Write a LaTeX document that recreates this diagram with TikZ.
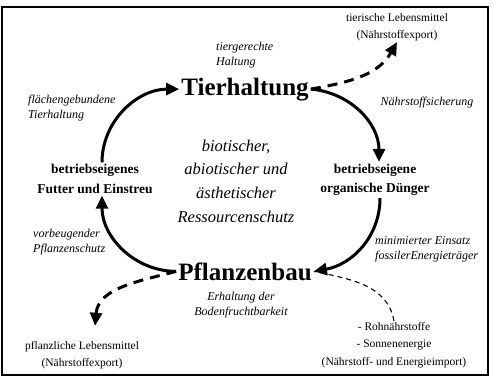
\documentclass[tikz,border=0pt]{standalone}
\usepackage{fontspec}
\setmainfont{Liberation Serif}
\usetikzlibrary{arrows.meta}
\tikzstyle{mymain}=[font=\fontsize{25}{30}\selectfont\bfseries,inner sep=2pt]
\tikzstyle{mysub}=[font=\fontsize{13.5}{19.5}\selectfont\bfseries,align=center,inner sep=2pt]
\tikzstyle{mycore}=[font=\fontsize{16.5}{23.7}\selectfont\itshape,align=center,inner sep=2pt]
\tikzstyle{myital}=[font=\fontsize{12}{15}\selectfont\itshape,align=left,inner sep=1pt]
\tikzstyle{mysmall}=[font=\fontsize{11.5}{17.5}\selectfont,align=center,inner sep=1pt]
\tikzstyle{myarrow}=[line width=3pt,-{Triangle[length=13pt,width=12pt]}]
\tikzstyle{mydash}=[myarrow,dash pattern=on 10pt off 7pt]
\tikzstyle{mythin}=[line width=1.1pt,dash pattern=on 5pt off 4pt]

\begin{document}
\begin{tikzpicture}[x=1pt,y=1pt]
	\useasboundingbox (0,0) rectangle (493,-383);
	\draw[line width=2.5pt] (2,-7) rectangle (488,-375);

	\node[mymain,anchor=base] (tier) at (245,-95) {Tierhaltung};
	\node[mymain,anchor=base] (pflanz) at (245,-280) {Pflanzenbau};
	\node[mysub] (futter) at (95,-179) {betriebseigenes\\Futter und Einstreu};
	\node[mysub] (duenger) at (375,-180) {betriebseigene\\organische Dünger};
	\node[mycore] (kern) at (236,-181) {biotischer,\\abiotischer und\\ästhetischer\\Ressourcenschutz};

	\node[myital,anchor=west] (haltung) at (215,-55) {tiergerechte\\Haltung};
	\node[myital,anchor=west] (flaeche) at (27,-108) {flächengebundene\\Tierhaltung};
	\node[myital] (sicher) at (427,-103) {Nährstoffsicherung};
	\node[myital,anchor=west] (schutz) at (32,-242) {vorbeugender\\Pflanzenschutz};
	\node[myital,anchor=west] (einsatz) at (374,-249) {minimierter Einsatz\\fossilerEnergieträger};
	\node[myital,align=center] (boden) at (241,-305) {Erhaltung der\\Bodenfruchtbarkeit};

	\node[mysmall] (tierexp) at (397,-27) {tierische Lebensmittel\\(Nährstoffexport)};
	\node[mysmall] (pflexp) at (82,-355) {pflanzliche Lebensmittel\\(Nährstoffexport)};
	\node[mysmall] (import) at (394,-345) {- Rohnährstoffe\\- Sonnenenergie\\(Nährstoff- und Energieimport)};

	% Kreislauf
	\draw[myarrow] ([xshift=7pt]futter.north) to[out=90,in=180] (tier.west);
	\draw[myarrow] (tier.east) to[out=-5,in=90] ([xshift=4pt]duenger.north);
	\draw[myarrow] ([xshift=5pt]duenger.south) to[out=-90,in=10] (pflanz.east);
	\draw[myarrow] (pflanz.west) to[out=180,in=-90] ([xshift=7pt]futter.south);

	\draw[mydash] (tier.east) to[out=10,in=240] (tierexp.south);
	\draw[mydash] (pflanz.west) to[out=195,in=85] ([xshift=13pt,yshift=14pt]pflexp.north);
	\draw[mythin] (import.north) to[out=100,in=-12] (pflanz.east);
\end{tikzpicture}
\end{document}
